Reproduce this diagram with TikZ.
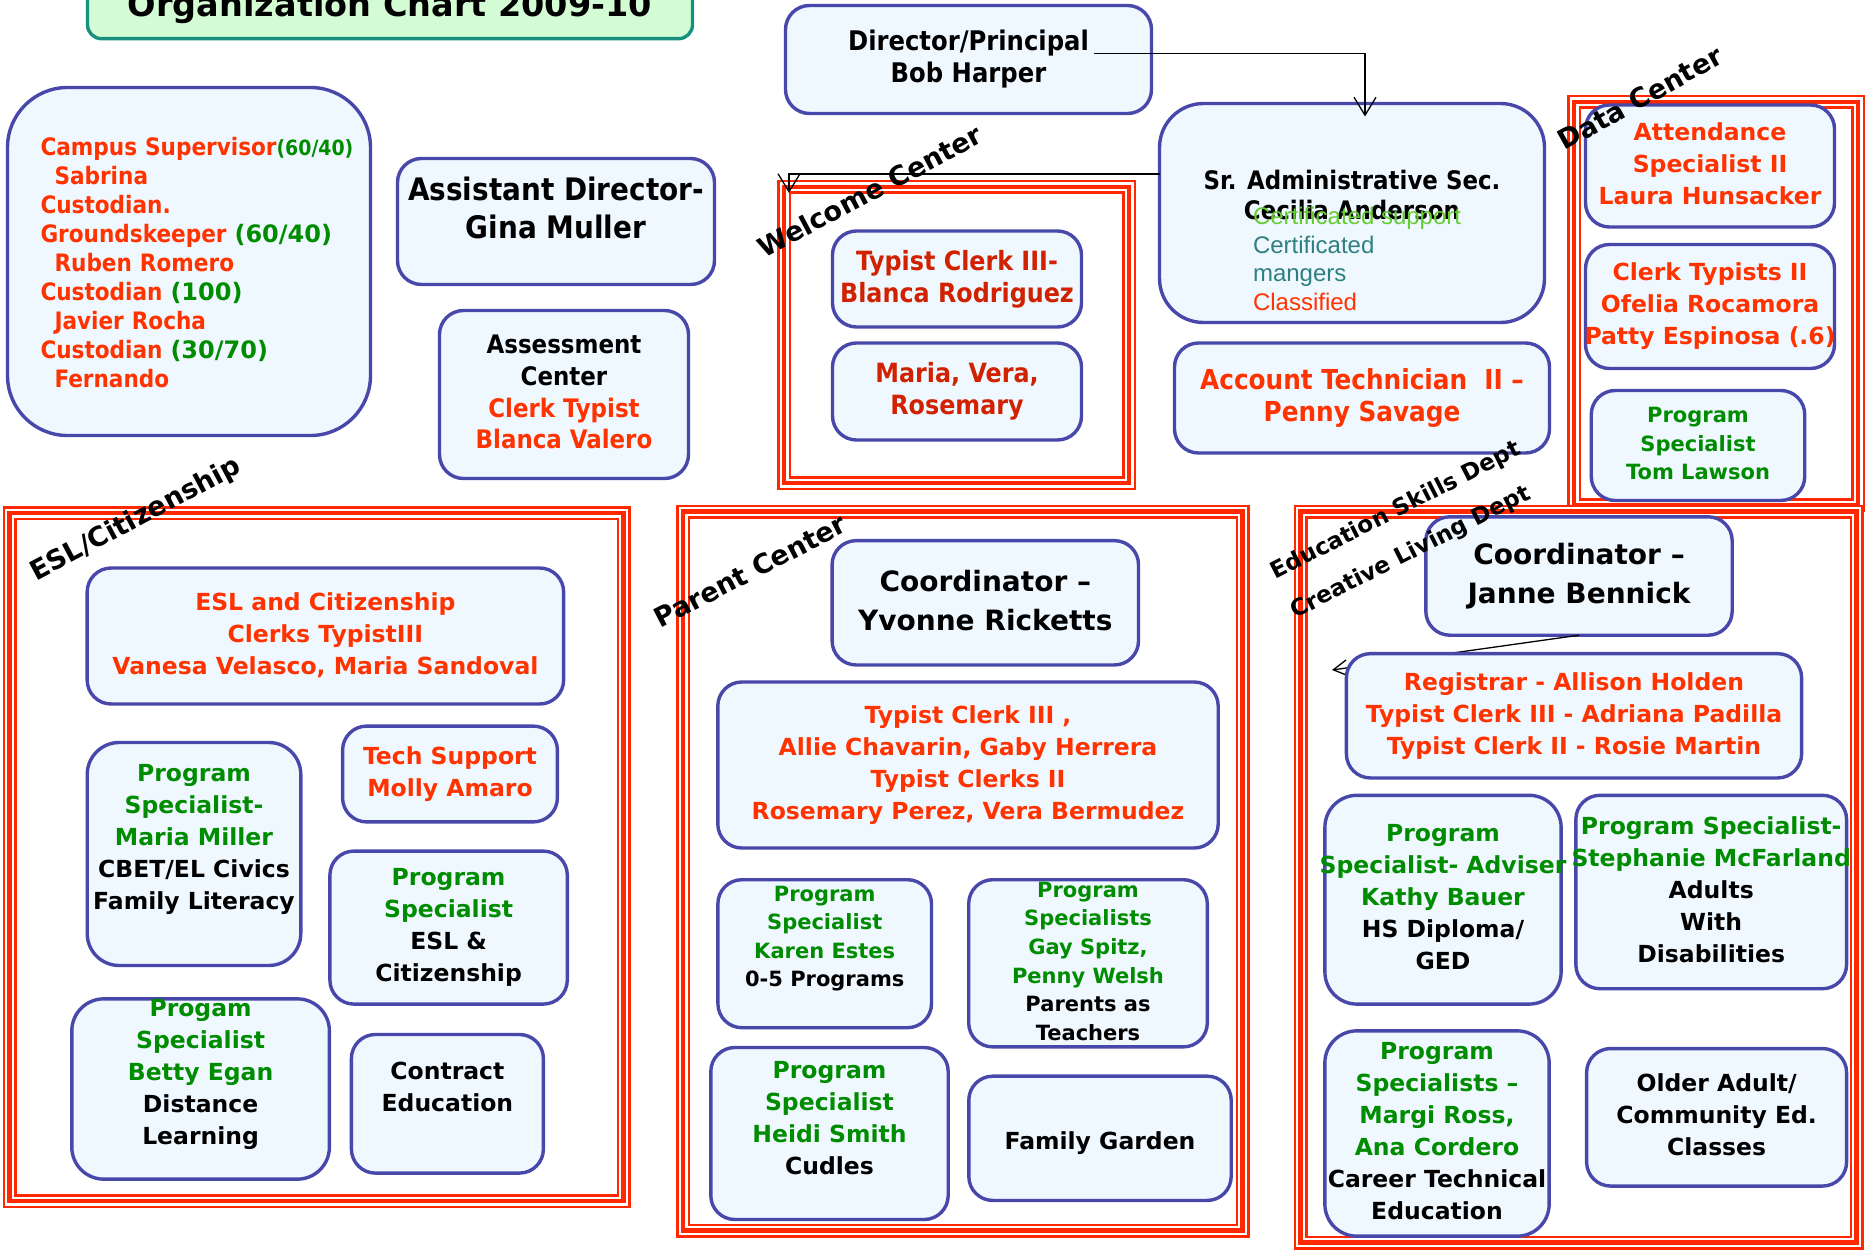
\documentclass[tikz,border=0pt]{standalone}
\usepackage{fontspec}
\setmainfont{DejaVu Sans}
\newfontfamily\condfont{DejaVu Sans Condensed}
\newfontfamily\listfont{Liberation Sans}
\usetikzlibrary{arrows.meta}
\definecolor{boxblue}{RGB}{72,72,170}
\definecolor{boxfill}{RGB}{240,248,255}
\definecolor{txtred}{RGB}{255,51,0}
\definecolor{darkred}{RGB}{208,34,0}
\definecolor{txtgreen}{RGB}{0,140,0}
\definecolor{lightgreen}{RGB}{102,204,51}
\definecolor{tealtxt}{RGB}{46,128,128}
\definecolor{framered}{RGB}{255,40,0}
\definecolor{titlefill}{RGB}{212,252,212}
\definecolor{titleline}{RGB}{24,144,128}
\newcommand\capstrut{\vrule height .85\baselineskip depth .15\baselineskip width 0pt}

\begin{document}
\begin{tikzpicture}[x=1pt, y=-1pt,
    lines/.style={align=center, inner sep=0pt, outer sep=0pt,
      execute at begin node=\capstrut, execute at end node=\capstrut},
    staff/.style={lines, draw=boxblue, fill=boxfill, line width=3.4pt, rounded corners=24pt,
      font=\bfseries\fontsize{23.5pt}{32pt}\selectfont},
    smalltext/.style={font=\bfseries\fontsize{21pt}{28.6pt}\selectfont},
    largetext/.style={font=\bfseries\fontsize{28pt}{39pt}\selectfont},
    narrowtext/.style={font=\condfont\bfseries\fontsize{26.5pt}{32pt}\selectfont},
    frame/.style={draw=framered, line width=14pt, inner sep=0pt, outer sep=0pt,
      postaction={draw=white, line width=9pt},
      postaction={draw=framered, line width=4.5pt}},
    dept/.style={font=\bfseries\fontsize{27pt}{32pt}\selectfont, inner sep=0pt},
    link/.style={line width=1.3pt, -{Straight Barb[length=18pt,width=22pt]}}]
   \useasboundingbox (0,0) rectangle (1866,1252);

   % department frames
   \node[frame, minimum width=345pt, minimum height=296pt] (welcome) at (956.5,335) {};
   \node[frame, minimum width=284pt, minimum height=403pt] (data) at (1716,303.5) {};
   \node[frame, minimum width=614pt, minimum height=688pt] (esl) at (316.5,857) {};
   \node[frame, minimum width=559.5pt, minimum height=719pt] (parent) at (962.8,871) {};
   \node[frame, minimum width=556pt, minimum height=731pt] (edu) at (1578.6,877) {};

   % title
   \node[lines, draw=titleline, fill=titlefill, line width=3.4pt, rounded corners=14pt,
     font=\bfseries\fontsize{33.5pt}{40pt}\selectfont,
     minimum width=605pt, minimum height=72pt] (title) at (390,2.7) {Organization Chart 2009-10};

   % top left
   \node[staff, font=\condfont\bfseries\fontsize{24pt}{29pt}\selectfont, text width=297pt, align=left, text=txtred,
     rounded corners=60pt, minimum width=363pt, minimum height=348pt] (campus) at (189,261.5)
     {\mbox{Campus Supervisor{\fontsize{21pt}{29pt}\selectfont\color{txtgreen}(60/40)}}\\
      \hspace*{14pt}Sabrina\\
      Custodian.\\
      \mbox{Groundskeeper {\normalfont\bfseries\color{txtgreen}(60/40)}}\\
      \hspace*{14pt}Ruben Romero\\
      \mbox{Custodian {\normalfont\bfseries\color{txtgreen}(100)}}\\
      \hspace*{14pt}Javier Rocha\\
      \mbox{Custodian {\normalfont\bfseries\color{txtgreen}(30/70)}}\\
      \hspace*{14pt}Fernando};
   \node[staff, font=\condfont\bfseries\fontsize{31pt}{38pt}\selectfont,
     minimum width=317pt, minimum height=126pt] (assistant) at (556,221.5) {Assistant Director-\\Gina Muller\\[-17pt]};
   \node[staff, font=\condfont\bfseries\fontsize{25.5pt}{31.7pt}\selectfont,
     minimum width=249pt, minimum height=168pt] (assessment) at (564,394.5)
     {Assessment\\Center\\\color{txtred}Clerk Typist\\\color{txtred}Blanca Valero};

   % director and secretary
   \node[staff, font=\condfont\bfseries\fontsize{27pt}{32pt}\selectfont, minimum width=366pt, minimum height=108pt] (director) at (968.5,59.5) {Director/Principal\\Bob Harper};
   \node[staff, rounded corners=44pt, minimum width=385pt, minimum height=219pt] (sradmin) at (1352,213) {};
   \node[lines, font=\condfont\bfseries\fontsize{25.5pt}{30pt}\selectfont] (srname) at (1352,197.5) {Sr. Administrative Sec.\\Cecilia Anderson};
   \node[lines, align=left, anchor=west, font=\listfont\fontsize{24pt}{28.5pt}\selectfont] (srlist) at (1253,261)
     {\color{lightgreen}Certificated support\\\color{tealtxt}Certificated\\\color{tealtxt}mangers\\\color{txtred}Classified};
   \node[staff, font=\condfont\bfseries\fontsize{27.5pt}{32pt}\selectfont, text=txtred, minimum width=375pt, minimum height=110pt] (account) at (1362,398) {Account Technician\ \ II –\\Penny Savage};

   % welcome center
   \node[staff, narrowtext, text=darkred, minimum width=249pt, minimum height=96pt] (wtypist) at (957,279) {Typist Clerk III-\\Blanca Rodriguez};
   \node[staff, narrowtext, text=darkred, minimum width=249pt, minimum height=97pt] (wmaria) at (957,391.5) {Maria, Vera,\\Rosemary};

   % data center
   \node[staff, text=txtred, minimum width=249pt, minimum height=122pt] (attendance) at (1710,166) {Attendance\\Specialist II\\Laura Hunsacker};
   \node[staff, text=txtred, minimum width=249pt, minimum height=124pt] (clerks) at (1710,306.5) {Clerk Typists II\\Ofelia Rocamora\\\makebox[0pt]{Patty Espinosa (.6)}};
   \node[staff, smalltext, text=txtgreen, minimum width=213.5pt, minimum height=110pt] (tomlawson) at (1698,445.5) {Program\\Specialist\\Tom Lawson};

   % esl / citizenship
   \node[staff, text=txtred, minimum width=476.5pt, minimum height=136pt] (eslclerks) at (325.4,636) {ESL and Citizenship\\Clerks TypistIII\\Vanesa Velasco, Maria Sandoval};
   \node[staff, text=txtgreen, rounded corners=32pt, minimum width=213.6pt, minimum height=223pt] (mmiller) at (194,854)
     {Program\\Specialist-\\Maria Miller\\\color{black}CBET/EL Civics\\\color{black}Family Literacy\\[-3pt]};
   \node[staff, text=txtred, minimum width=214.8pt, minimum height=95.8pt] (techsupport) at (450,774) {Tech Support\\Molly Amaro};
   \node[staff, text=txtgreen, minimum width=237.4pt, minimum height=153pt] (eslspec) at (448.6,927.6)
     {Program\\Specialist\\\color{black}ESL \&\\\color{black}Citizenship};
   \node[staff, text=txtgreen, rounded corners=32pt, minimum width=257.6pt, minimum height=180.3pt] (began) at (200.6,1089)
     {Progam\\Specialist\\Betty Egan\\\color{black}Distance\\\color{black}Learning\\[-2pt]};
   \node[staff, minimum width=192pt, minimum height=138.6pt] (contract) at (447.4,1103.8) {Contract\\Education\\[-3pt]};

   % parent center
   \node[staff, largetext, minimum width=306.4pt, minimum height=124.3pt] (yvonne) at (985.3,602.8) {Coordinator –\\Yvonne Ricketts};
   \node[staff, text=txtred, minimum width=500.4pt, minimum height=166pt] (ptypist) at (968,765)
     {Typist Clerk III ,\\Allie Chavarin, Gaby Herrera\\Typist Clerks II\\Rosemary Perez, Vera Bermudez};
   \node[staff, smalltext, text=txtgreen, minimum width=213.6pt, minimum height=148pt] (kestes) at (824.7,953.7)
     {Program\\Specialist\\Karen Estes\\\color{black}0-5 Programs\\[2pt]};
   \node[staff, smalltext, text=txtgreen, minimum width=238.6pt, minimum height=167.2pt] (gspitz) at (1088,963.3)
     {Program\\Specialists\\Gay Spitz,\\Penny Welsh\\\color{black}Parents as\\\color{black}Teachers};
   \node[staff, text=txtgreen, minimum width=237.4pt, minimum height=172pt] (hsmith) at (829.5,1133.5)
     {Program\\Specialist\\Heidi Smith\\\color{black}Cudles\\[-5pt]};
   \node[staff, minimum width=262.4pt, minimum height=124.3pt] (garden) at (1100,1138.3) {Family Garden};

   % education skills / creative living
   \node[staff, largetext, minimum width=306.4pt, minimum height=118.4pt] (janne) at (1579,576) {Coordinator –\\Janne Bennick};
   \coordinate (regin) at (1332,670);
   \draw[line width=1.3pt, -{Straight Barb[length=14pt,width=16pt]}] (janne.south) -- (regin);
   \node[staff, text=txtred, minimum width=455.2pt, minimum height=124.3pt] (registrar) at (1574,715.8)
     {Registrar - Allison Holden\\Typist Clerk III - Adriana Padilla\\Typist Clerk II - Rosie Martin};
   \node[staff, text=txtgreen, rounded corners=32pt, minimum width=236.2pt, minimum height=208.8pt] (kbauer) at (1443,899.7)
     {Program\\\makebox[0pt]{Specialist- Adviser}\\Kathy Bauer\\\color{black}HS Diploma/\\\color{black}GED};
   \node[staff, text=txtgreen, minimum width=270.7pt, minimum height=193.4pt] (smcfarland) at (1711.2,892)
     {Program Specialist-\\\makebox[0pt]{Stephanie McFarland}\\\color{black}Adults\\\color{black}With\\\color{black}Disabilities};
   \node[staff, text=txtgreen, rounded corners=32pt, minimum width=224.3pt, minimum height=205.3pt] (mross) at (1437,1133.5)
     {Program\\Specialists –\\Margi Ross,\\Ana Cordero\\\color{black}Career Technical\\\color{black}Education};
   \node[staff, minimum width=260pt, minimum height=137.5pt] (older) at (1716.6,1117.3) {Older Adult/\\Community Ed.\\Classes};

   % reporting lines
   \coordinate (dirout) at (1094,53.5);
   \draw[link] (dirout) -| ([xshift=13pt,yshift=-13pt]sradmin.north);
   \draw[link] ([yshift=39pt]sradmin.west) -| ([xshift=5pt,yshift=-6pt]welcome.north west);

   % department names
   \node[dept, rotate=28] (welcomelabel) at (870,191) {Welcome Center};
   \node[dept, rotate=29] (datalabel) at (1640,98) {Data Center};
   \node[dept, rotate=28] (esllabel) at (136,520) {ESL/Citizenship};
   \node[dept, rotate=27.5] (parentlabel) at (750,571) {Parent Center};
   \node[dept, font=\bfseries\fontsize{23pt}{28pt}\selectfont, rotate=27] (edulabel) at (1396,511) {Education Skills Dept};
   \node[dept, font=\bfseries\fontsize{23pt}{28pt}\selectfont, rotate=27] (creativelabel) at (1411,553) {Creative Living Dept};
 \end{tikzpicture}
\end{document}
